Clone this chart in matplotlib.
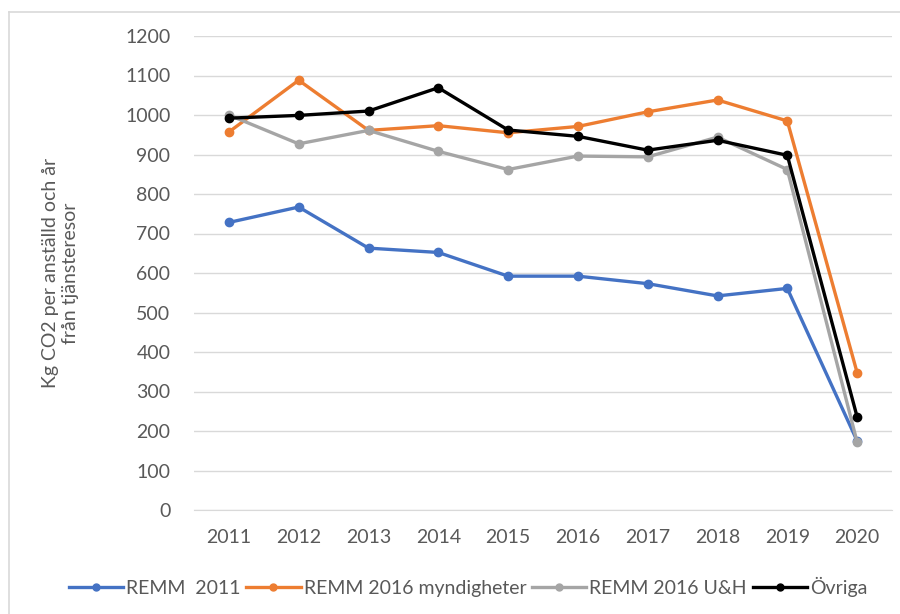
import matplotlib.pyplot as plt
from matplotlib.lines import Line2D
import numpy as np

plt.rcParams['font.family'] = ['Lato', 'DejaVu Sans']

years = ['2011', '2012', '2013', '2014', '2015', '2016', '2017', '2018', '2019', '2020']
remm_2011 = [728, 767, 663, 652, 592, 592, 573, 542, 561, 175]
remm_2016_myn = [957, 1088, 961, 973, 955, 971, 1008, 1038, 985, 348]
remm_2016_uh = [1000, 927, 961, 908, 862, 896, 894, 944, 862, 172]
ovriga = [992, 999, 1010, 1069, 962, 946, 911, 936, 898, 236]

series = [
    ('REMM  2011', remm_2011, '#4472C4'),
    ('REMM 2016 myndigheter', remm_2016_myn, '#ED7D31'),
    ('REMM 2016 U&H', remm_2016_uh, '#A5A5A5'),
    ('Övriga', ovriga, '#000000'),
]

txt = '#595959'
fs = 14
fig = plt.figure(figsize=(9, 6.14), dpi=100)
ax = fig.add_axes([194 / 900, 1 - 510 / 614, 698 / 900, 474 / 614])

x = np.arange(len(years))
for label, vals, col in series:
    ax.plot(x, vals, color=col, lw=2.4, marker='o', markersize=6, label=label,
            solid_joinstyle='round')

ax.set_xlim(-0.5, len(years) - 0.5)
ax.set_ylim(0, 1200)
ax.set_yticks(np.arange(0, 1201, 100))
ax.set_xticks(x)
ax.set_xticklabels(years)
ax.grid(axis='y', color='#D9D9D9', lw=1)
ax.set_axisbelow(True)
for s in ['top', 'right', 'left']:
    ax.spines[s].set_visible(False)
ax.spines['bottom'].set_color('#D9D9D9')
ax.tick_params(length=0, labelsize=fs, colors=txt)
ax.tick_params(axis='x', pad=14)
ax.tick_params(axis='y', pad=17)
ax.set_ylabel('Kg CO2 per anställd och år\nfrån tjänsteresor', fontsize=fs,
              color=txt, labelpad=33, linespacing=1.25)

handles = [Line2D([], [], color=c, lw=2.4, marker='o', markersize=5) for _, _, c in series]
fig.legend(handles, [s[0] for s in series], loc='center', bbox_to_anchor=(0.52, 1 - 587 / 614),
           ncol=4, frameon=False, fontsize=fs, labelcolor=txt, handlelength=2.8,
           handletextpad=0.15, columnspacing=0.3)

# chart area border (left and top edges visible)
fig.add_artist(Line2D([8.5 / 900, 8.5 / 900], [0, 1 - 11.5 / 614], color='#D9D9D9', lw=1.2,
                      transform=fig.transFigure))
fig.add_artist(Line2D([8.5 / 900, 1], [1 - 11.5 / 614, 1 - 11.5 / 614], color='#D9D9D9', lw=1.2,
                      transform=fig.transFigure))

fig.savefig('out.png', dpi=100)
